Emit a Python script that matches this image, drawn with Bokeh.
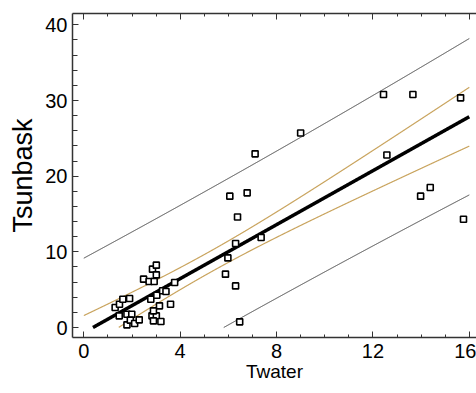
import numpy as np
from bokeh.plotting import figure
from bokeh.models import Range1d, LinearAxis, SingleIntervalTicker, ColumnDataSource
from bokeh.embed import file_html
from bokeh.resources import INLINE

# Scatter data
twater = [12.44, 13.66, 15.64, 9.00, 7.11, 12.58, 6.06, 6.78, 14.38, 13.98,
          6.38, 15.76, 6.30, 7.36, 5.98, 5.88, 6.30, 6.47,
          1.30, 1.48, 1.62, 1.90, 1.47, 1.79, 1.99, 1.79, 1.93, 2.11,
          2.30, 2.48, 2.71, 2.92, 2.85, 3.01, 3.01, 2.78, 3.03, 3.14,
          2.83, 3.01, 2.89, 2.89, 3.20, 3.27, 3.41, 3.60, 3.77]
tsunbask = [30.80, 30.80, 30.35, 25.70, 22.95, 22.80, 17.36, 17.80, 18.50, 17.36,
            14.60, 14.30, 11.10, 11.90, 9.20, 7.05, 5.50, 0.75,
            2.64, 3.08, 3.74, 3.83, 1.54, 1.76, 1.76, 0.35, 0.97, 0.53,
            1.01, 6.39, 6.08, 6.08, 7.71, 8.24, 6.96, 3.74, 4.27, 2.86,
            1.54, 1.54, 2.20, 0.88, 0.79, 4.85, 4.76, 3.08, 5.95]

x_ticks_interval = 4
y_ticks_interval = 10
t_crit = 2.014  # Student t, 95 %, 45 degrees of freedom

# Ordinary least squares fit with 95% confidence and prediction bands
x = np.array(twater)
y = np.array(tsunbask)
n = len(x)
xbar = x.mean()
sxx = ((x - xbar) ** 2).sum()
slope = ((x - xbar) * (y - y.mean())).sum() / sxx
intercept = y.mean() - slope * xbar
resid = y - (intercept + slope * x)
s = np.sqrt((resid ** 2).sum() / (n - 2))

xg = np.linspace(0, 16, 1601)
fit = intercept + slope * xg
conf = t_crit * s * np.sqrt(1.0 / n + (xg - xbar) ** 2 / sxx)
pred = t_crit * s * np.sqrt(1.0 + 1.0 / n + (xg - xbar) ** 2 / sxx)


def clip(v):
    v = v.copy()
    v[v < 0] = np.nan
    return v


FONT = "Liberation Sans"

p = figure(width=476, height=393, x_range=Range1d(-0.47, 16.30),
           y_range=Range1d(-1.32, 41.5), output_backend="svg",
           toolbar_location=None, min_border_left=72, min_border_top=13,
           min_border_right=0, min_border_bottom=56)
p.grid.visible = False
p.outline_line_color = None
p.background_fill_color = "white"

p.line(xg, clip(pred + fit), line_color="#3a3a3a", line_width=1)
p.line(xg, clip(fit - pred), line_color="#3a3a3a", line_width=1)
p.line(xg, clip(fit + conf), line_color="#c9a45e", line_width=1.2)
p.line(xg, clip(fit - conf), line_color="#c9a45e", line_width=1.2)
p.line(xg, clip(fit), line_color="black", line_width=3.5)

src = ColumnDataSource(dict(x=twater, y=tsunbask))
p.scatter("x", "y", source=src, marker="square", size=6, line_color="black",
          line_width=1.6, fill_color="white")

xa = p.xaxis[0]
xa.ticker = SingleIntervalTicker(interval=x_ticks_interval, num_minor_ticks=4)
ya = p.yaxis[0]
ya.ticker = SingleIntervalTicker(interval=y_ticks_interval, num_minor_ticks=5)

for ax in (xa, ya):
    ax.major_tick_in = 6
    ax.major_tick_out = 0
    ax.minor_tick_in = 3
    ax.minor_tick_out = 0
    ax.axis_line_color = "#333333"
    ax.major_tick_line_color = "#333333"
    ax.minor_tick_line_color = "#333333"
    ax.axis_line_width = 1.5
    ax.major_label_text_font = FONT
    ax.major_label_text_font_size = "20px"
    ax.major_label_text_color = "black"
    ax.axis_label_text_font = FONT
    ax.axis_label_text_font_style = "normal"
    ax.axis_label_text_color = "black"

ya.minor_tick_in = 5
xa.axis_label = "Twater"
xa.axis_label_text_font_size = "19px"
xa.major_label_standoff = 6
xa.axis_label_standoff = 0
ya.axis_label = "Tsunbask"
ya.axis_label_text_font_size = "27px"
ya.major_label_standoff = 5
ya.axis_label_standoff = 4

top = LinearAxis(ticker=SingleIntervalTicker(interval=x_ticks_interval, num_minor_ticks=4),
                 major_label_text_color=None, major_label_text_font_size="10px",
                 major_label_standoff=0,
                 major_tick_in=6, major_tick_out=0, minor_tick_in=3, minor_tick_out=0,
                 axis_line_color="#333333", axis_line_width=1.5,
                 major_tick_line_color="#333333", minor_tick_line_color="#333333")
p.add_layout(top, "above")

open("out.html", "w").write(file_html(p, INLINE))
